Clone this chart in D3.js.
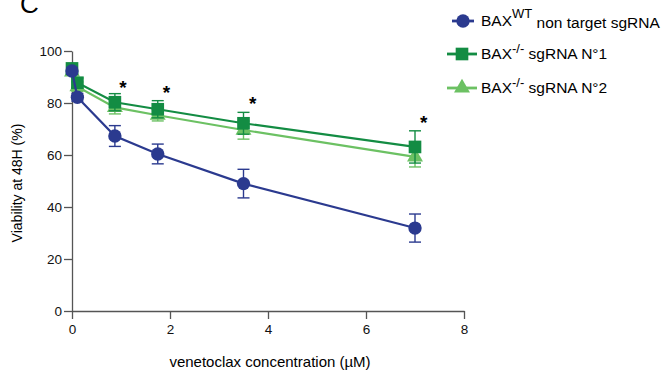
<!DOCTYPE html>
<html>
<head>
<meta charset="utf-8">
<script src="https://cdn.jsdelivr.net/npm/d3@7"></script>
<style>
  body { margin: 0; background: #fff; }
  text { font-family: "Liberation Sans", Arial, sans-serif; }
</style>
</head>
<body>
<div id="chart"></div>
<script>
const width = 666
const height = 376

// concentrations (µM)
const conc = [0, 0.11, 0.875, 1.75, 3.5, 7]
// viability at 48H (%), mean and error
const wtMean = [92.3, 82.2, 67.3, 60.4, 49.0, 31.9]
const wtErr = [1.2, 1.5, 4.0, 3.8, 5.5, 5.4]
const ko1Mean = [93.3, 87.8, 80.3, 77.6, 72.2, 63.1]
const ko1Err = [1.2, 1.8, 3.3, 3.3, 4.2, 6.2]
const ko2Mean = [92.0, 86.3, 78.3, 75.3, 69.6, 59.3]
const ko2Err = [1.2, 1.8, 2.5, 2.2, 3.5, 3.9]
// significance stars: x position and height
const starX = [1.04, 1.93, 3.69, 7.18]
const starY = [87.5, 85.3, 81.0, 74.0]

const xTicks = [0, 2, 4, 6, 8]
const yTicks = [0, 20, 40, 60, 80, 100]

const series = [
  {name: 'ko2', mean: ko2Mean, err: ko2Err, color: '#6cc163', shape: 'triangle'},
  {name: 'ko1', mean: ko1Mean, err: ko1Err, color: '#138c43', shape: 'square'},
  {name: 'wt', mean: wtMean, err: wtErr, color: '#2b3a8f', shape: 'circle'}
]

const svg = d3.select('#chart')
  .append('svg')
  .attr('width', width)
  .attr('height', height)

const x = d3.scaleLinear().domain([0, 8]).range([72, 464])
const y = d3.scaleLinear().domain([0, 100]).range([311, 51])

// panel letter (cut at the top, as in the figure)
svg.append('text')
  .attr('x', 20)
  .attr('y', 13)
  .style('font-size', '26px')
  .text('C')

// axes
const xAxis = svg.append('g')
  .attr('transform', `translate(0,${y(0)})`)
  .call(d3.axisBottom(x).tickValues(xTicks).tickSize(8).tickSizeOuter(0).tickPadding(5))
const yAxis = svg.append('g')
  .attr('transform', `translate(${x(0)},0)`)
  .call(d3.axisLeft(y).tickValues(yTicks).tickSize(8).tickSizeOuter(0).tickPadding(2))

;[xAxis, yAxis].forEach(g => {
  g.select('.domain').attr('stroke', '#555').attr('stroke-width', 1.3)
  g.selectAll('.tick line').attr('stroke', '#555').attr('stroke-width', 1.3)
  g.selectAll('.tick text').style('font-size', '13.5px').attr('fill', '#111')
    .style('font-family', '"Liberation Sans", Arial, sans-serif')
})

svg.append('text')
  .attr('x', 270)
  .attr('y', 367)
  .style('text-anchor', 'middle')
  .style('font-size', '15px')
  .text('venetoclax concentration (µM)')

svg.append('text')
  .attr('transform', `translate(22,183) rotate(-90)`)
  .style('text-anchor', 'middle')
  .style('font-size', '14px')
  .text('Viability at 48H (%)')

const symbolOf = shape => shape === 'circle' ? d3.symbol(d3.symbolCircle, 140)
  : shape === 'square' ? d3.symbol(d3.symbolSquare, 160)
  : d3.symbol(d3.symbolTriangle, 110)

const line = d3.line()

series.forEach(s => {
  const pts = conc.map((c, i) => [x(c), y(s.mean[i])])
  const g = svg.append('g')

  // error bars
  conc.forEach((c, i) => {
    const cx = x(c)
    const top = y(s.mean[i] + s.err[i])
    const bot = y(s.mean[i] - s.err[i])
    g.append('line').attr('x1', cx).attr('x2', cx).attr('y1', top).attr('y2', bot)
      .attr('stroke', s.color).attr('stroke-width', 1.4)
    ;[top, bot].forEach(yy => {
      g.append('line').attr('x1', cx - 6).attr('x2', cx + 6).attr('y1', yy).attr('y2', yy)
        .attr('stroke', s.color).attr('stroke-width', 1.4)
    })
  })

  g.append('path')
    .attr('d', line(pts))
    .attr('fill', 'none')
    .attr('stroke', s.color)
    .attr('stroke-width', 2.2)

  g.selectAll('.pt')
    .data(pts)
    .enter()
    .append('path')
    .attr('transform', d => `translate(${d[0]},${d[1]})`)
    .attr('d', symbolOf(s.shape))
    .attr('fill', s.color)
})

// stars
svg.selectAll('.star')
  .data(starX)
  .enter()
  .append('text')
  .attr('x', d => x(d))
  .attr('y', (d, i) => y(starY[i]) + 10)
  .style('text-anchor', 'middle')
  .style('font-size', '19px')
  .style('font-weight', 'bold')
  .text('*')

// legend
const legend = [
  {s: series[2], sup: 'WT', rest: ' non target sgRNA', y: 21},
  {s: series[1], sup: '-/-', rest: ' sgRNA N°1', y: 54},
  {s: series[0], sup: '-/-', rest: ' sgRNA N°2', y: 88}
]
legend.forEach(l => {
  const x0 = l.sup === 'WT' ? 452 : 447
  const x1 = l.sup === 'WT' ? 474 : 477
  svg.append('line').attr('x1', x0).attr('x2', x1).attr('y1', l.y).attr('y2', l.y)
    .attr('stroke', l.s.color).attr('stroke-width', 2.8)
  svg.append('path')
    .attr('transform', `translate(${(x0 + x1) / 2},${l.y})`)
    .attr('d', symbolOf(l.s.shape))
    .attr('fill', l.s.color)
  const t = svg.append('text')
    .attr('x', 481)
    .attr('y', l.y + 5)
    .style('font-size', '15.5px')
  t.append('tspan').text('BAX')
  t.append('tspan').attr('dy', l.sup === 'WT' ? -8 : -6).style('font-size', '13px').text(l.sup)
  t.append('tspan').attr('dy', l.sup === 'WT' ? 10 : 6).text(l.rest)
})
</script>
</body>
</html>
